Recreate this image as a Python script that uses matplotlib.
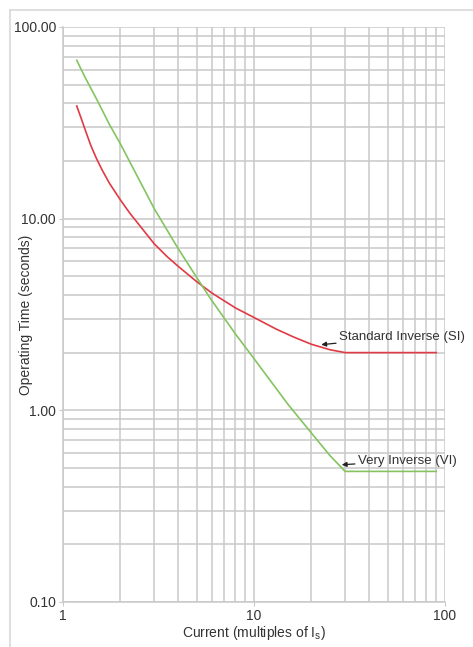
#!/usr/bin/env python3
"""
IDMT relay curves: Standard Inverse vs Very Inverse
"""

import matplotlib
matplotlib.use('Agg')
import matplotlib.pyplot as plt
from matplotlib.lines import Line2D
from matplotlib.ticker import FixedLocator, FixedFormatter, LogLocator, NullFormatter

plt.rcParams['font.family'] = ['Liberation Sans', 'DejaVu Sans']

# values
si_current = [1.18, 1.25, 1.3, 1.4, 1.5, 1.6, 1.75, 2, 2.25, 2.5, 3, 3.5, 4, 5, 6, 7, 8,
              10, 13, 16, 20, 25, 30, 90]
si_time = [38.7, 33, 29.5, 24, 20.5, 18.0, 15.3, 12.5, 10.6, 9.3, 7.4, 6.35, 5.65, 4.7,
           4.1, 3.72, 3.42, 3.05, 2.66, 2.42, 2.21, 2.07, 2.0, 2.0]

vi_current = [1.18, 1.3, 1.5, 1.75, 2, 2.5, 3, 4, 5, 6, 8, 10, 15, 20, 25, 30, 90]
vi_time = [67, 55, 42, 31, 24.5, 16, 11.3, 7.0, 4.95, 3.75, 2.5, 1.86, 1.08, 0.76, 0.58,
           0.48, 0.48]

y_ticks = [0.1, 1, 10, 100]
y_labels = ['0.10', '1.00', '10.00', '100.00']
x_ticks = [1, 10, 100]
x_labels = ['1', '10', '100']

GRID = '#c9c9c9'
TEXT = '#333333'

fig = plt.figure(figsize=(4.73, 6.47), dpi=100)
ax = fig.add_axes([0.1332, 0.0696, 0.8076, 0.8887])

ax.plot(si_current, si_time, color='#e03a44', linewidth=1.2, zorder=3)
ax.plot(vi_current, vi_time, color='#84c460', linewidth=1.2, zorder=3)

ax.set_xscale('log')
ax.set_yscale('log')
ax.set_xlim(1, 100)
ax.set_ylim(0.1, 100)

ax.xaxis.set_major_locator(FixedLocator(x_ticks))
ax.xaxis.set_major_formatter(FixedFormatter(x_labels))
ax.xaxis.set_minor_locator(LogLocator(base=10, subs=range(2, 10)))
ax.xaxis.set_minor_formatter(NullFormatter())
ax.yaxis.set_major_locator(FixedLocator(y_ticks))
ax.yaxis.set_major_formatter(FixedFormatter(y_labels))
ax.yaxis.set_minor_locator(LogLocator(base=10, subs=range(2, 10)))
ax.yaxis.set_minor_formatter(NullFormatter())

ax.grid(True, which='both', color=GRID, linewidth=1.1)
ax.set_axisbelow(True)
for side in ['top', 'right', 'left', 'bottom']:
    ax.spines[side].set_color(GRID)
    ax.spines[side].set_linewidth(1.1)
ax.spines['top'].set_visible(False)
ax.spines['right'].set_visible(False)

ax.tick_params(which='major', length=3, color=GRID, labelsize=10, labelcolor=TEXT, pad=2)
ax.tick_params(which='minor', length=0)

ax.set_ylabel('Operating Time (seconds)', fontsize=10, color=TEXT)
ax.yaxis.set_label_coords(-0.097, 0.5)
ax.set_xlabel(r'Current (multiples of I$_\mathregular{s}$)', fontsize=10, color=TEXT)
ax.xaxis.set_label_coords(0.5, -0.054)
ax.xaxis.label.set_va('center')
ax.yaxis.label.set_va('center')

arrow = dict(arrowstyle='-|>', color='#222222', lw=0.9, mutation_scale=7,
             shrinkA=0, shrinkB=0)
ax.annotate('Standard Inverse (SI)', xy=(22.5, 2.2), xytext=(27.8, 2.42),
            fontsize=9.5, color=TEXT, va='center', ha='left', arrowprops=arrow)
ax.annotate('Very Inverse (VI)', xy=(28.8, 0.52), xytext=(34.9, 0.545),
            fontsize=9.5, color=TEXT, va='center', ha='left', arrowprops=arrow)

# light frame around the picture (top and left edge)
fig.add_artist(Line2D([10 / 473, 1], [1 - 10 / 647, 1 - 10 / 647],
                      color='#d8d8d8', linewidth=1.2))
fig.add_artist(Line2D([10 / 473, 10 / 473], [0, 1 - 10 / 647],
                      color='#d8d8d8', linewidth=1.2))

fig.savefig('out.png', dpi=100)
plt.close(fig)
